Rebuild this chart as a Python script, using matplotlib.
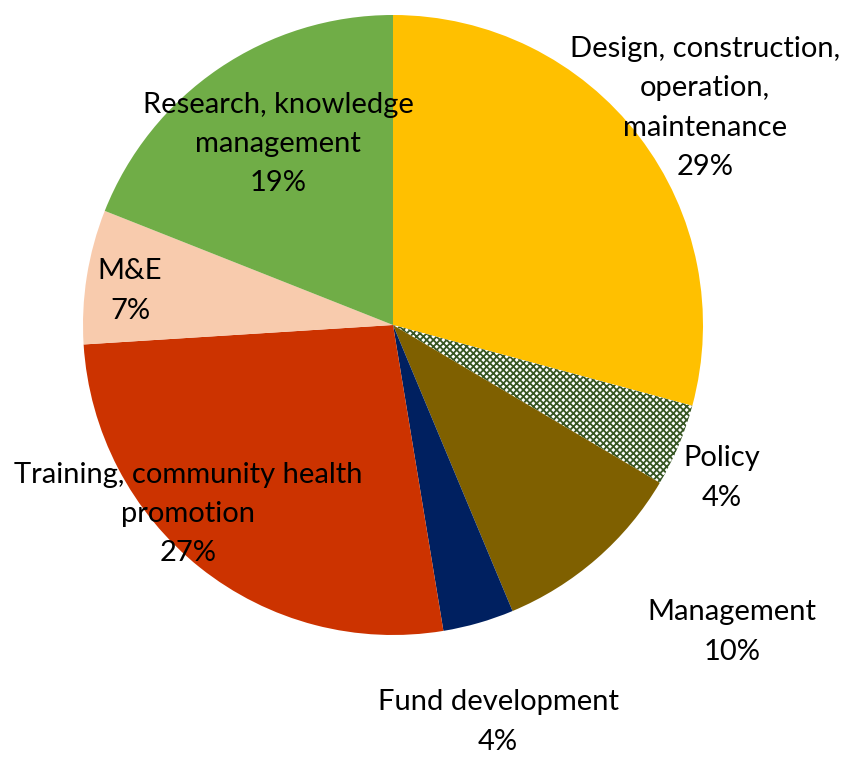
import matplotlib

matplotlib.use("Agg")
import matplotlib.pyplot as plt

categories = [
    "Design, construction,\noperation,\nmaintenance",
    "Policy",
    "Management",
    "Fund development",
    "Training, community health\npromotion",
    "M&E",
    "Research, knowledge\nmanagement",
]
shares = [29.2, 4.3, 10.2, 3.7, 26.6, 7.0, 19.0]
pct_labels = ["29%", "4%", "10%", "4%", "27%", "7%", "19%"]

colors = ["#FFC000", "#FFFFFF", "#7F6000", "#002060", "#CC3300", "#F8CBAD", "#70AD47"]
# label block centres in pixel coords (x, y from top)
label_pos = [(705, 108), (722, 478), (732, 632), (498, 722), (188, 514), (130, 291), (278, 144)]

W, H = 855, 760
plt.rcParams["font.family"] = ["Lato", "DejaVu Sans"]
plt.rcParams["hatch.linewidth"] = 1.3

fig = plt.figure(figsize=(W / 100, H / 100), dpi=100)
ax = fig.add_axes([0, 0, 1, 1])

wedges, _ = ax.pie(
    shares,
    colors=colors,
    startangle=90,
    counterclock=False,
    radius=310,
    center=(393, H - 325),
    wedgeprops={"linewidth": 0},
    frame=True,
)
ax.set_xlim(0, W)
ax.set_ylim(0, H)
ax.set_aspect("equal")
ax.axis("off")

# policy slice: dark green checker on white
policy = wedges[1]
policy.set_hatch("xxxxx")
policy.set_edgecolor("#375623")
policy.set_linewidth(0)

for name, pct, (x, y) in zip(categories, pct_labels, label_pos):
    ax.text(x, H - y, f"{name}\n{pct}", ha="center", va="center",
            fontsize=21, color="black", linespacing=1.62)

fig.savefig("out.png", dpi=100)
